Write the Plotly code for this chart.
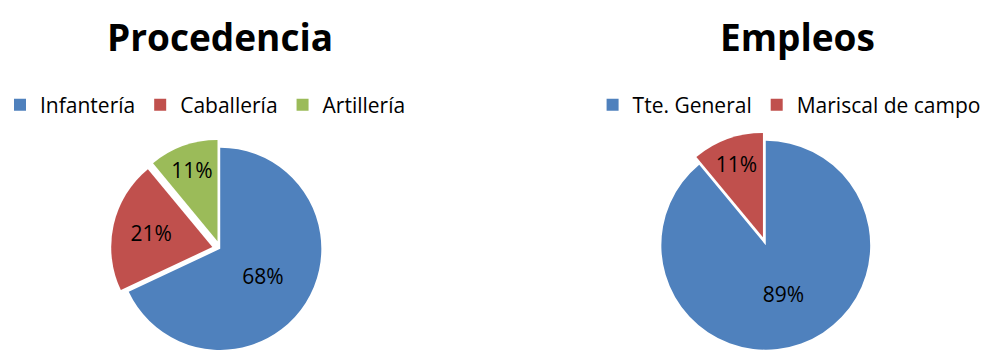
import plotly.graph_objects as go

# Data
proc_labels = ["Infantería", "Caballería", "Artillería"]
proc_values = [68, 21, 11]
emp_labels = ["Tte. General", "Mariscal de campo"]
emp_values = [89, 11]

BLUE = "#4F81BD"
RED = "#C0504D"
GREEN = "#9BBB59"
FONT = "Open Sans"

fig = go.Figure()

fig.add_trace(go.Pie(
    labels=proc_labels, values=proc_values,
    marker=dict(colors=[BLUE, RED, GREEN], line=dict(color="white", width=0)),
    pull=[0, 0.08, 0.08], sort=False, direction="clockwise", rotation=0,
    textinfo="percent", texttemplate="%{percent:.0%}", textposition="inside",
    insidetextorientation="horizontal",
    textfont=dict(family=FONT, size=21, color="black"),
    domain=dict(x=[0.05, 0.39], y=[0.0, 0.61]),
    legend="legend", hoverinfo="label+percent",
))

fig.add_trace(go.Pie(
    labels=emp_labels, values=emp_values,
    marker=dict(colors=[BLUE, RED], line=dict(color="white", width=0)),
    pull=[0, 0.08], sort=False, direction="clockwise", rotation=0,
    textinfo="percent", texttemplate="%{percent:.0%}", textposition="inside",
    insidetextorientation="horizontal",
    textfont=dict(family=FONT, size=21, color="black"),
    domain=dict(x=[0.6, 0.93], y=[0.0, 0.63]),
    legend="legend2", hoverinfo="label+percent",
))

fig.update_layout(
    width=1001, height=358,
    margin=dict(l=0, r=0, t=0, b=0),
    paper_bgcolor="white", plot_bgcolor="white",
    font=dict(family=FONT, color="black"),
    legend=dict(orientation="h", x=0.0, y=1 - 105 / 358, xanchor="left", yanchor="middle",
                font=dict(family=FONT, size=21, color="black"), bgcolor="rgba(0,0,0,0)",
                itemwidth=30),
    legend2=dict(orientation="h", x=0.592, y=1 - 105 / 358, xanchor="left", yanchor="middle",
                 font=dict(family=FONT, size=21, color="black"), bgcolor="rgba(0,0,0,0)",
                 itemwidth=30),
    annotations=[
        dict(text="<b>Procedencia</b>", x=220 / 1001, y=1 - 36 / 358, xref="paper", yref="paper",
             xanchor="center", yanchor="middle", showarrow=False,
             font=dict(family=FONT, size=37, color="black")),
        dict(text="<b>Empleos</b>", x=797 / 1001, y=1 - 36 / 358, xref="paper", yref="paper",
             xanchor="center", yanchor="middle", showarrow=False,
             font=dict(family=FONT, size=37, color="black")),
    ],
)

fig.write_html("out.html")
